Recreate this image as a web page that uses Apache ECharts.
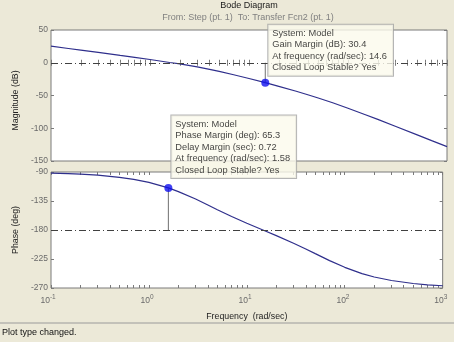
<!DOCTYPE html>
<html>
<head>
<meta charset="utf-8">
<script src="https://cdn.jsdelivr.net/npm/echarts@6/dist/echarts.min.js"></script>
<style>
  html, body { margin: 0; padding: 0; background: #ece9d8; }
  #chart { width: 454px; height: 342px; }
</style>
</head>
<body>
<div id="chart"></div>
<script>
// Open-loop frequency response (rad/sec) with magnitude in dB and phase in degrees
const freq = [0.1, 0.15, 0.2, 0.3, 0.5, 0.7, 1, 1.58, 2, 3, 4, 5, 7, 10, 14.6, 20, 30, 40, 50, 70, 100, 150, 200, 300, 500, 700, 1000];
const magnitudeDb = [25.3, 21.8, 19.3, 15.7, 11.2, 8.3, 5.0, 0.4, -1.8, -6.4, -10.1, -13.2, -18.3, -24.0, -30.4, -36.0, -43.5, -49.2, -53.8, -61.1, -69.4, -79.3, -86.5, -96.9, -110.1, -118.9, -128.1];
const phaseDeg = [-91.6, -92.5, -93.3, -94.9, -98.2, -101.4, -106.1, -114.7, -120.4, -132.0, -141.2, -148.5, -159.1, -169.6, -180.0, -188.7, -200.5, -209.5, -216.7, -227.5, -237.9, -247.6, -252.9, -258.4, -263.0, -265.0, -266.5];

// Stability margins
const gainMarginDb = 30.4;
const gainMarginFreq = 14.6;
const phaseMarginDeg = 65.3;
const delayMarginSec = 0.72;
const phaseMarginFreq = 1.58;

// Axis ticks
const decadeTicks = [0.1, 1, 10, 100, 1000];
const magTicks = [50, 0, -50, -100, -150];
const phaseTicks = [-90, -135, -180, -225, -270];

const FONT = '"Liberation Sans", Arial, sans-serif';
const LABEL_GRAY = '#6a6a6a';
const BOX_GRAY = '#7a7a7a';
const CURVE = '#2f2f8c';

// decade ticks plus the 2..9 minor positions inside each decade
const logTicks = [];
decadeTicks.forEach((d, i) => {
  logTicks.push(d);
  if (i < decadeTicks.length - 1) for (let k = 2; k <= 9; k++) logTicks.push(+(d * k).toPrecision(3));
});

function xAxisDef(gridIndex, position, showLabels) {
  return {
    type: 'log', logBase: 10, gridIndex, position, min: 0.1, max: 1000,
    axisLine: { show: false },
    splitLine: { show: false },
    axisTick: { show: true, inside: true, length: 3, customValues: logTicks, lineStyle: { color: BOX_GRAY, width: 1 } },
    axisLabel: showLabels ? {
      show: true, customValues: decadeTicks, margin: 6,
      formatter: v => { const e = Math.round(Math.log10(v)); return '{b|10}{s|' + e + '}{p|' + e + '}'; },
      rich: {
        b: { fontSize: 8.5, color: LABEL_GRAY, fontFamily: FONT },
        s: { fontSize: 6.5, color: LABEL_GRAY, fontFamily: FONT, padding: [0, 0, 6, 0] },
        p: { fontSize: 6.5, color: 'transparent', fontFamily: FONT, padding: [0, 0, 6, 0] }
      }
    } : { show: false },
    name: showLabels ? 'Frequency  (rad/sec)' : '',
    nameLocation: 'middle', nameGap: 24,
    nameTextStyle: { fontSize: 8.8, color: '#222', fontFamily: FONT }
  };
}

function yAxisDef(gridIndex, position, min, max, interval, ticks, name, namePad) {
  const left = position === 'left';
  return {
    type: 'value', gridIndex, position, min, max, interval,
    axisLine: { show: false },
    splitLine: { show: false },
    axisTick: { show: true, inside: true, length: 3, customValues: ticks, lineStyle: { color: BOX_GRAY, width: 1 } },
    axisLabel: left ? { show: true, customValues: ticks, margin: 3, fontSize: 8.5, color: LABEL_GRAY, fontFamily: FONT } : { show: false },
    name: left ? name : '',
    nameLocation: 'middle', nameGap: 27,
    nameTextStyle: { fontSize: 8.8, color: '#222', fontFamily: FONT, padding: namePad || 0 }
  };
}

const tipStyle = {
  show: true, align: 'left', verticalAlign: 'bottom',
  backgroundColor: '#fbfaec', borderColor: '#a3a3a3', borderWidth: 1,
  padding: [3, 6, 2, 4], lineHeight: 11.5, fontSize: 9.3, color: '#111', fontFamily: FONT
};

const gmTip = ['System: Model', 'Gain Margin (dB): ' + gainMarginDb, 'At frequency (rad/sec): ' + gainMarginFreq, 'Closed Loop Stable? Yes'].join('\n');
const pmTip = ['System: Model', 'Phase Margin (deg): ' + phaseMarginDeg, 'Delay Margin (sec): ' + delayMarginSec, 'At frequency (rad/sec): ' + phaseMarginFreq, 'Closed Loop Stable? Yes'].join('\n');

const refLine = (value) => ({
  silent: true, symbol: 'none', label: { show: false },
  lineStyle: { type: [7, 3, 1, 3], color: '#404040', width: 1 },
  data: [{ yAxis: value }]
});

const chart = echarts.init(document.getElementById('chart'), null, { renderer: 'canvas' });
chart.setOption({
  backgroundColor: '#ece9d8',
  animation: false,
  grid: [
    { left: 51, right: 7, top: 30, height: 131, show: true, backgroundColor: '#ffffff', borderColor: BOX_GRAY, borderWidth: 1 },
    { left: 51, right: 7, top: 172, height: 116, show: true, backgroundColor: '#ffffff', borderColor: BOX_GRAY, borderWidth: 1 }
  ],
  xAxis: [
    xAxisDef(0, 'bottom', false),
    xAxisDef(0, 'top', false),
    xAxisDef(1, 'bottom', true),
    xAxisDef(1, 'top', false)
  ],
  yAxis: [
    yAxisDef(0, 'left', -150, 50, 50, magTicks, 'Magnitude (dB)', [0, 10, 0, 0]),
    yAxisDef(0, 'right', -150, 50, 50, magTicks, ''),
    yAxisDef(1, 'left', -270, -90, 45, phaseTicks, 'Phase (deg)'),
    yAxisDef(1, 'right', -270, -90, 45, phaseTicks, '')
  ],
  series: [
    {
      name: 'magnitude', type: 'line', xAxisIndex: 0, yAxisIndex: 0,
      data: freq.map((f, i) => [f, magnitudeDb[i]]),
      showSymbol: false, lineStyle: { color: CURVE, width: 1.2 },
      markLine: refLine(0)
    },
    {
      name: 'phase', type: 'line', xAxisIndex: 2, yAxisIndex: 2,
      data: freq.map((f, i) => [f, phaseDeg[i]]),
      showSymbol: false, lineStyle: { color: CURVE, width: 1.2 },
      markLine: refLine(-180)
    },
    {
      name: 'gm stem', type: 'line', xAxisIndex: 0, yAxisIndex: 0,
      data: [[gainMarginFreq, 0], [gainMarginFreq, -gainMarginDb]],
      showSymbol: false, lineStyle: { color: '#707070', width: 1 }
    },
    {
      name: 'pm stem', type: 'line', xAxisIndex: 2, yAxisIndex: 2,
      data: [[phaseMarginFreq, -180], [phaseMarginFreq, -180 + phaseMarginDeg]],
      showSymbol: false, lineStyle: { color: '#707070', width: 1 }
    },
    {
      name: 'gain margin', type: 'scatter', xAxisIndex: 0, yAxisIndex: 0, z: 10,
      data: [[gainMarginFreq, -gainMarginDb]],
      symbolSize: 8, itemStyle: { color: '#1010ee' },
      label: Object.assign({}, tipStyle, { position: [7, -3], formatter: gmTip })
    },
    {
      name: 'phase margin', type: 'scatter', xAxisIndex: 2, yAxisIndex: 2, z: 10,
      data: [[phaseMarginFreq, -180 + phaseMarginDeg]],
      symbolSize: 8, itemStyle: { color: '#1010ee' },
      label: Object.assign({}, tipStyle, { position: [7, -6], formatter: pmTip })
    }
  ],
  graphic: [
    { type: 'text', x: 249, y: 6, z: 5, style: { text: 'Bode Diagram', align: 'center', verticalAlign: 'middle', fontSize: 9, fill: '#1a1a1a', fontFamily: FONT } },
    { type: 'text', x: 248, y: 18, z: 5, style: { text: 'From: Step (pt. 1)  To: Transfer Fcn2 (pt. 1)', align: 'center', verticalAlign: 'middle', fontSize: 9, fill: '#808080', fontFamily: FONT } },
    { type: 'line', shape: { x1: 0, y1: 323, x2: 454, y2: 323 }, style: { stroke: '#9a9a9a', lineWidth: 1 } },
    { type: 'text', x: 2, y: 333, style: { text: 'Plot type changed.', align: 'left', verticalAlign: 'middle', fontSize: 9, fill: '#111', fontFamily: FONT } }
  ]
});
</script>
</body>
</html>
